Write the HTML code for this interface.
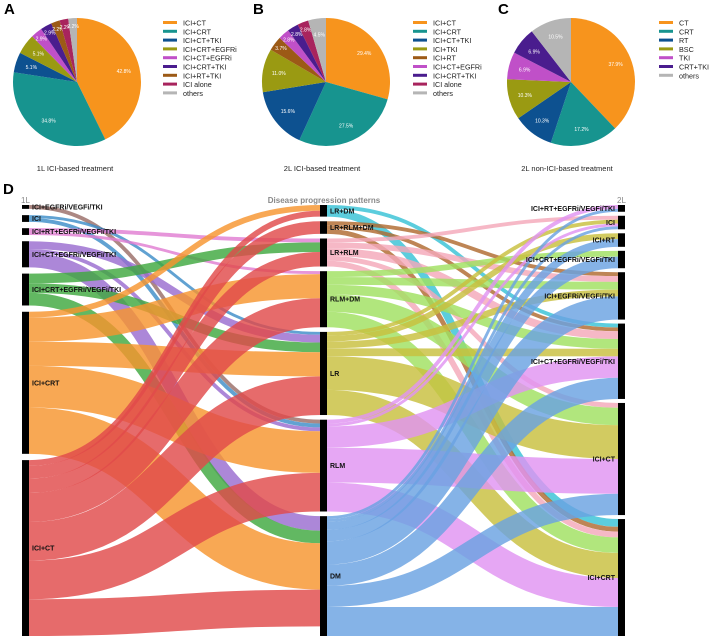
<!DOCTYPE html>
<html><head><meta charset="utf-8">
<style>
html,body{margin:0;padding:0;background:#fff;}
body{width:709px;height:638px;overflow:hidden;font-family:"Liberation Sans",Arial,sans-serif;}
svg text{font-family:"Liberation Sans",Arial,sans-serif;}
</style></head>
<body>
<svg id="fig" width="709" height="638" viewBox="0 0 709 638" xmlns="http://www.w3.org/2000/svg">
<g id="pies"></g>
<g id="sankey"></g>
</svg>
<script>
// ---------- Pie data ----------
const pieALabels = ["ICI+CT","ICI+CRT","ICI+CT+TKI","ICI+CRT+EGFRi","ICI+CT+EGFRi","ICI+CRT+TKI","ICI+RT+TKI","ICI alone","others"];
const pieAValues = [42.8,34.8,5.1,5.1,2.9,2.9,2.2,2.2,2.2];
const pieAColors = ["#f7941d","#17948f","#0d5190","#9a9a12","#c050c8","#4a1d8e","#9c5a16","#a8245d","#b5b5b5"];
const pieBLabels = ["ICI+CT","ICI+CRT","ICI+CT+TKI","ICI+TKI","ICI+RT","ICI+CT+EGFRi","ICI+CRT+TKI","ICI alone","others"];
const pieBValues = [29.4,27.5,15.6,11.0,3.7,2.8,2.8,2.8,4.5];
const pieBColors = ["#f7941d","#17948f","#0d5190","#9a9a12","#9c5a16","#c050c8","#4a1d8e","#a8245d","#b5b5b5"];
const pieCLabels = ["CT","CRT","RT","BSC","TKI","CRT+TKI","others"];
const pieCValues = [37.9,17.2,10.3,10.3,6.9,6.9,10.5];
const pieCColors = ["#f7941d","#17948f","#0d5190","#9a9a12","#c050c8","#4a1d8e","#b5b5b5"];

// ---------- Sankey data ----------
const leftNodes = ["ICI+EGFRi/VEGFi/TKI","ICI","ICI+RT+EGFRi/VEGFi/TKI","ICI+CT+EGFRi/VEGFi/TKI","ICI+CRT+EGFRi/VEGFi/TKI","ICI+CRT","ICI+CT"];
const leftColors = ["#9a6e68","#3e8ec8","#e07ed2","#9a6cd0","#3fa83f","#f7952e","#e04a4a"];
const midNodes = ["LR+DM","LR+RLM+DM","LR+RLM","RLM+DM","LR","RLM","DM"];
const midColors = ["#38c2d6","#b06a30","#f4a8ba","#a0e060","#c8c03e","#e094f2","#6aa2e2"];
const rightNodes = ["ICI+RT+EGFRi/VEGFi/TKI","ICI","ICI+RT","ICI+CRT+EGFRi/VEGFi/TKI","ICI+EGFRi/VEGFi/TKI","ICI+CT+EGFRi/VEGFi/TKI","ICI+CT","ICI+CRT"];
const flows1 = [
 [0,5,4],[1,4,3],[1,5,4],[2,2,4],[2,3,3],
 [3,4,8],[3,5,4],[3,6,15],[4,2,10],[4,4,10],[4,6,13],
 [5,0,6],[5,3,25],[5,4,25],[5,5,43],[5,6,48],
 [6,0,6],[6,1,13],[6,2,15],[6,3,30],[6,4,40],[6,5,40],[6,6,38]
];
const flows2 = [
 [0,5,4],[0,7,8],[1,4,4],[1,5,4],[1,7,5],
 [2,1,4],[2,4,6],[2,5,8],[2,6,5],[2,7,6],
 [3,3,6],[3,4,8],[3,5,10],[3,6,18],[3,7,16],
 [4,1,4],[4,2,6],[4,4,7],[4,5,8],[4,6,35],[4,7,26],
 [5,0,4],[5,1,3],[5,5,22],[5,6,36],[5,7,30],
 [6,0,3],[6,1,3],[6,2,8],[6,3,12],[6,4,24],[6,5,22],[6,6,22],[6,7,30]
];

const NS="http://www.w3.org/2000/svg";
function mk(tag, parent, attrs){const e=document.createElementNS(NS,tag);for(const k in attrs)e.setAttribute(k,attrs[k]);parent.appendChild(e);return e;}

// ---------- Pies ----------
const pies=document.getElementById('pies');
function drawPie(letter,cx,cy,r,labels,values,colors,legX,caption,capX){
  const g=mk('g',pies,{});
  
  
  const t=mk('text',g,{x:cx-73,y:14,'font-size':15,'font-weight':'bold',fill:'#000'});
  t.textContent=letter;
  
  
  const total=values.reduce((a,b)=>a+b,0);
  let a0=0;
  values.forEach((v,i)=>{
    const a1=a0+v/total*2*Math.PI;
    const x0=cx+r*Math.sin(a0),y0=cy-r*Math.cos(a0),x1=cx+r*Math.sin(a1),y1=cy-r*Math.cos(a1);
    const p=mk('path',g,{d:`M${cx},${cy}L${x0},${y0}A${r},${r} 0 ${a1-a0>Math.PI?1:0} 1 ${x1},${y1}Z`,fill:colors[i]});
    
    
    const am=(a0+a1)/2, lr=r*(v<4?0.88:0.75);
    const lt=mk('text',g,{x:cx+lr*Math.sin(am),y:cy-lr*Math.cos(am)+2,'font-size':5,fill:'#fff','text-anchor':'middle'});
    lt.textContent=v.toFixed(1)+'%';
    
    
    a0=a1;
  });
  labels.forEach((l,i)=>{
    const y=23+i*8.8;
    const sw=mk('rect',g,{x:legX,y:y-2,width:14,height:3,fill:colors[i]});
    
    
    const tx=mk('text',g,{x:legX+20,y:y+2.5,'font-size':7.2,fill:'#222'});
    tx.textContent=l;
    
    
  });
  const c=mk('text',g,{x:capX,y:171,'font-size':7.5,fill:'#222','text-anchor':'middle'});
  c.textContent=caption;
  
  
}
drawPie('A',77,82,64,pieALabels,pieAValues,pieAColors,163,'1L ICI-based treatment',75);
drawPie('B',326,82,64,pieBLabels,pieBValues,pieBColors,413,'2L ICI-based treatment',322);
drawPie('C',571,82,64,pieCLabels,pieCValues,pieCColors,659,'2L non-ICI-based treatment',567);

// ---------- Sankey ----------
const sk=document.getElementById('sankey');
const sTop=205,sBot=636,nw=7;
const colX=[22,320,618];
function sums(n,fl,idx){const s=new Array(n).fill(0);fl.forEach(f=>s[f[idx]]+=f[2]);return s;}
const leftVal=sums(leftNodes.length,flows1,0);
const midIn=sums(midNodes.length,flows1,1), midOut=sums(midNodes.length,flows2,0);
const midVal=midIn.map((v,i)=>Math.max(v,midOut[i]));
const rightVal=sums(rightNodes.length,flows2,1);
const gap=4;
function scaleFor(vals){
  const tot=vals.reduce((a,b)=>a+b,0);
  return (sBot-sTop-gap*(vals.length-1))/tot;
}
const k=Math.min(scaleFor(leftVal),scaleFor(midVal),scaleFor(rightVal));
function relayout(vals){let y=sTop;const tot=vals.reduce((a,b)=>a+b,0);const g=(sBot-sTop-tot*k)/(vals.length-1);return vals.map(v=>{const r=y;y+=v*k+g;return r;});}
const ly=relayout(leftVal),my=relayout(midVal),ry=relayout(rightVal);

const linkG=mk('g',sk,{});


function drawLinks(fl,sy,ty,x0,x1,colors,name){
  const so=sy.map(()=>0),to=ty.map(()=>0);
  const srcOff={},tgtOff={};
  fl.slice().sort((a,b)=>a[0]-b[0]||a[1]-b[1]).forEach(f=>{srcOff[f[0]+'-'+f[1]]=so[f[0]];so[f[0]]+=f[2]*k;});
  fl.slice().sort((a,b)=>a[1]-b[1]||a[0]-b[0]).forEach(f=>{tgtOff[f[0]+'-'+f[1]]=to[f[1]];to[f[1]]+=f[2]*k;});
  fl.slice().sort((a,b)=>a[0]-b[0]||a[1]-b[1]).forEach(f=>{
    const w=f[2]*k, key=f[0]+'-'+f[1];
    const y0=sy[f[0]]+srcOff[key]+w/2, y1=ty[f[1]]+tgtOff[key]+w/2;
    const xm=(x0+x1)/2;
    const p=mk('path',linkG,{d:`M${x0},${y0}C${xm},${y0} ${xm},${y1} ${x1},${y1}`,stroke:colors[f[0]],'stroke-width':Math.max(w,1),fill:'none','stroke-opacity':0.82});
    
    
  });
}
drawLinks(flows1,ly,my,colX[0]+nw,colX[1],leftColors,'link-1l-to-pattern');
drawLinks(flows2,my,ry,colX[1]+nw,colX[2],midColors,'link-pattern-to-2l');

function drawNodes(names,vals,ys,x,anchor,lx,col){
  names.forEach((n,i)=>{
    const h=vals[i]*k;
    const r=mk('rect',sk,{x:x,y:ys[i],width:nw,height:h,fill:'#000'});
    
    
    const t=mk('text',sk,{x:lx,y:ys[i]+h/2+2.5,'font-size':7,'font-weight':'bold',fill:'#111','text-anchor':anchor});
    t.textContent=n;
    
    
  });
}
drawNodes(leftNodes,leftVal,ly,colX[0],'start',colX[0]+nw+3,'1l');
drawNodes(midNodes,midVal,my,colX[1],'start',colX[1]+nw+3,'pattern');
drawNodes(rightNodes,rightVal,ry,colX[2],'end',colX[2]-3,'2l');

function txt(s,x,y,size,fill,anchor,weight,name){
  const t=mk('text',sk,{x:x,y:y,'font-size':size,fill:fill,'text-anchor':anchor,'font-weight':weight});
  t.textContent=s;
  
  
}
txt('D',3,194,15,'#000','start','bold','panel-label-d');
txt('1L',21,203,8,'#888','start','normal','column-title-1l');
txt('Disease progression patterns',324,203,8,'#888','middle','bold','column-title-patterns');
txt('2L',617,203,8,'#888','start','normal','column-title-2l');
</script>
</body></html>
